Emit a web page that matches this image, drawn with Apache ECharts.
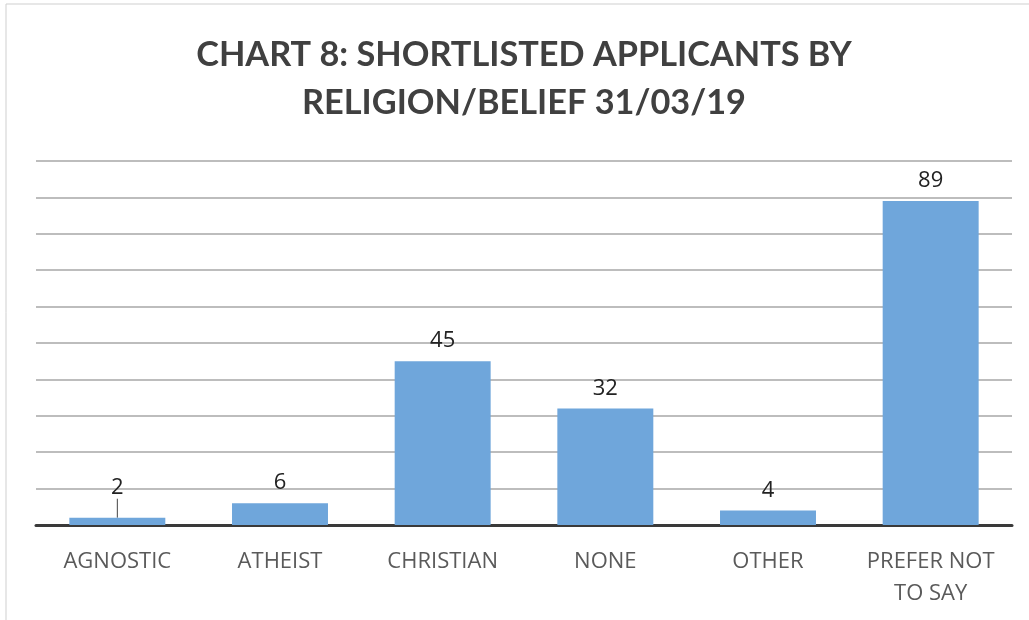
<!DOCTYPE html>
<html>
<head>
<meta charset="utf-8">
<script src="https://cdn.jsdelivr.net/npm/echarts@6/dist/echarts.min.js"></script>
<style>
  html, body { margin: 0; padding: 0; background: #fff; }
  #chart { width: 1029px; height: 620px; }
</style>
</head>
<body>
<div id="chart"></div>
<script>
// Shortlisted applicants by religion/belief
const categories = ['AGNOSTIC', 'ATHEIST', 'CHRISTIAN', 'NONE', 'OTHER', 'PREFER NOT\nTO SAY'];
const applicants = [2, 6, 45, 32, 4, 89];
const titleLines = ['CHART 8: SHORTLISTED APPLICANTS BY', 'RELIGION/BELIEF 31/03/19'];

// the first label is lifted a little and tied back to its bar with a short line
const barData = applicants.map((v, i) => i === 0
  ? { value: v, labelLine: { show: true } }
  : { value: v });

const chart = echarts.init(document.getElementById('chart'));
chart.setOption({
  animation: false,
  backgroundColor: '#fff',
  graphic: [{
    type: 'rect',
    shape: { x: 6, y: 4, width: 1040, height: 640 },
    style: { fill: 'none', stroke: '#cfcfcf', lineWidth: 1 },
    silent: true
  }, {
    // two-line heading, centred on the framed area
    type: 'text',
    x: 524,
    y: 31,
    silent: true,
    style: {
      text: titleLines.join('\n'),
      align: 'center',
      verticalAlign: 'top',
      font: 'bold 34.3px Lato',
      lineHeight: 48,
      fill: '#404040'
    }
  }],
  grid: { left: 36, right: 17, top: 161, bottom: 95, containLabel: false },
  xAxis: {
    type: 'category',
    data: categories,
    axisLine: { show: true, lineStyle: { color: '#3a3a3a', width: 3 } },
    axisTick: { show: false },
    axisLabel: {
      interval: 0,
      margin: 21,
      fontFamily: 'Open Sans',
      fontSize: 22,
      lineHeight: 32,
      color: '#5a5a5a'
    }
  },
  yAxis: {
    type: 'value',
    min: 0,
    max: 100,
    interval: 10,
    axisLine: { show: false },
    axisTick: { show: false },
    axisLabel: { show: false },
    splitLine: { lineStyle: { color: '#bdbdbd', width: 2 } }
  },
  series: [{
    type: 'bar',
    data: barData,
    barWidth: '59%',
    itemStyle: { color: '#6fa6db' },
    label: {
      show: true,
      position: 'top',
      distance: 9,
      fontFamily: 'Open Sans',
      fontSize: 22,
      color: '#222'
    },
    labelLine: { show: false, lineStyle: { color: '#444', width: 1 } },
    labelLayout: function (params) {
      return params.dataIndex === 0 ? { dy: -10 } : {};
    }
  }]
});
</script>
</body>
</html>
